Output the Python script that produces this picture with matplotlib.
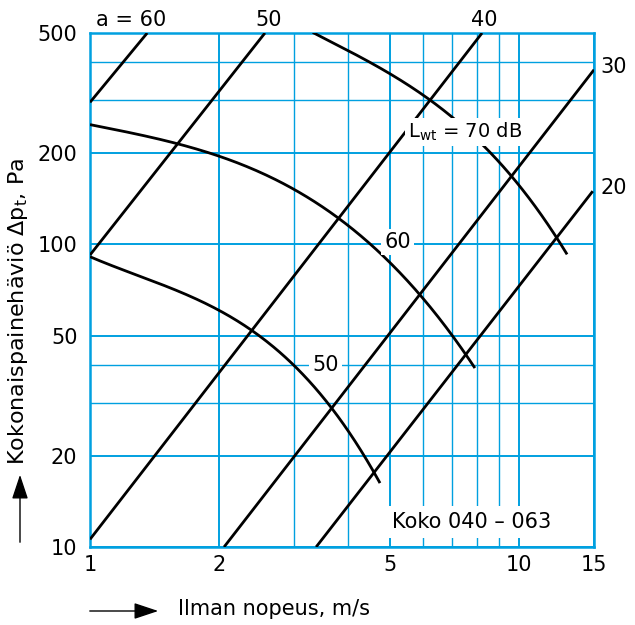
import numpy as np
import matplotlib
matplotlib.use('Agg')
import matplotlib.pyplot as plt

plt.rcParams['font.family'] = ['DejaVu Sans']
plt.rcParams['mathtext.default'] = 'regular'

BLUE = '#00a0e0'

# straight lines (a = ...): endpoints (velocity m/s, pressure Pa)
a_names = ['60', '50', '40', '30', '20']
a_v = [[1.0, 1.36], [1.0, 2.56], [1.0, 8.22], [2.055, 15.0], [3.37, 14.9]]
a_p = [[295, 500], [92.3, 500], [10.6, 500], [10, 378], [10, 150]]

# sound power curves (Lwt)
lwt70_v = [3.31, 3.98, 4.75, 6.22, 7.03, 8.13, 9.71, 11.05, 12.3, 12.98]
lwt70_p = [497, 446, 386, 296, 260, 216.6, 167, 133, 105.9, 90.9]
lwt60_v = [1.0, 1.605, 1.99, 2.81, 3.83, 4.75, 5.89, 7.58, 7.91]
lwt60_p = [248, 217, 197.6, 157, 120.5, 93.7, 69.1, 43.8, 37.9]
lwt50_v = [1.0, 1.395, 1.99, 2.39, 2.85, 3.67, 4.58, 4.75]
lwt50_p = [90.9, 76.3, 60.8, 51.4, 42.5, 29.0, 17.7, 16.3]

x_major = [1, 2, 5, 10, 15]
x_minor = [3, 4, 6, 7, 8, 9]
y_major = [10, 20, 50, 100, 200, 500]
y_minor = [30, 40, 300, 400]


def smooth(v, p, n=200):
    lv, lp = np.log10(v), np.log10(p)
    t = np.linspace(lv[0], lv[-1], n)
    c = np.polyfit(lv, lp, 3)
    return 10 ** t, 10 ** np.polyval(c, t)


fig = plt.figure(figsize=(6.35, 6.25), dpi=100)
ax = fig.add_axes([90 / 635, 78 / 625, 504 / 635, 514 / 625])
ax.set_xscale('log')
ax.set_yscale('log')
ax.set_xlim(1, 15)
ax.set_ylim(10, 500)

ax.set_xticks(x_major)
ax.set_xticklabels([str(x) for x in x_major])
ax.set_xticks(x_minor, minor=True)
ax.set_xticklabels([], minor=True)
ax.set_yticks(y_major)
ax.set_yticklabels([str(y) for y in y_major])
ax.set_yticks(y_minor, minor=True)
ax.set_yticklabels([], minor=True)
ax.tick_params(which='both', length=0, labelsize=15)
ax.tick_params(axis='x', pad=6)
ax.tick_params(axis='y', pad=9)
ax.grid(which='major', color=BLUE, lw=1.4)
ax.grid(which='minor', color=BLUE, lw=1.0)
for s in ax.spines.values():
    s.set_color(BLUE)
    s.set_linewidth(1.8)

for v, p in zip(a_v, a_p):
    ax.plot(v, p, color='black', lw=2, solid_capstyle='butt', zorder=3)

for v, p in [(lwt70_v, lwt70_p), (lwt60_v, lwt60_p), (lwt50_v, lwt50_p)]:
    sv, sp = smooth(v, p)
    ax.plot(sv, sp, color='black', lw=2, solid_capstyle='butt', zorder=3)

# labels
top_txt = ['a = 60', '50', '40']
top_x = [1.25, 2.61, 8.33]
for t, x in zip(top_txt, top_x):
    ax.text(x, 552, t, fontsize=15, ha='center', va='center', clip_on=False)

ax.text(15.5, 386, '30', fontsize=15, ha='left', va='center', clip_on=False)
ax.text(15.5, 153.8, '20', fontsize=15, ha='left', va='center', clip_on=False)

box = dict(boxstyle='square,pad=0.15', fc='white', ec='none')
ax.text(5.52, 235, 'L$_{wt}$ = 70 dB', fontsize=14, ha='left', va='center',
        bbox=box, zorder=5)
ax.text(5.23, 102, '60', fontsize=15, ha='center', va='center', bbox=box, zorder=5)
ax.text(3.55, 40, '50', fontsize=15, ha='center', va='center', bbox=box, zorder=5)
ax.text(5.07, 12.1, 'Koko 040 \u2013 063', fontsize=15, ha='left', va='center',
        bbox=dict(boxstyle='square,pad=0.3', fc='white', ec='none'), zorder=5)

# axis labels with arrows
fig.text(18 / 635, 160 / 625, 'Kokonaispainehäviö Δp$_t$, Pa', rotation=90,
         fontsize=16, ha='center', va='bottom')
fig.text(178 / 635, 16 / 625, 'Ilman nopeus, m/s', fontsize=15, ha='left', va='center')
fig.patches.append(matplotlib.patches.FancyArrowPatch(
    (20 / 635, 80 / 625), (20 / 635, 153 / 625), transform=fig.transFigure,
    arrowstyle='-|>,head_length=6,head_width=2', color='black', lw=1.0,
    mutation_scale=2.5))
fig.patches.append(matplotlib.patches.FancyArrowPatch(
    (87 / 635, 14 / 625), (161 / 635, 14 / 625), transform=fig.transFigure,
    arrowstyle='-|>,head_length=6,head_width=2', color='black', lw=1.0,
    mutation_scale=2.5))

fig.savefig('out.png', dpi=100)
